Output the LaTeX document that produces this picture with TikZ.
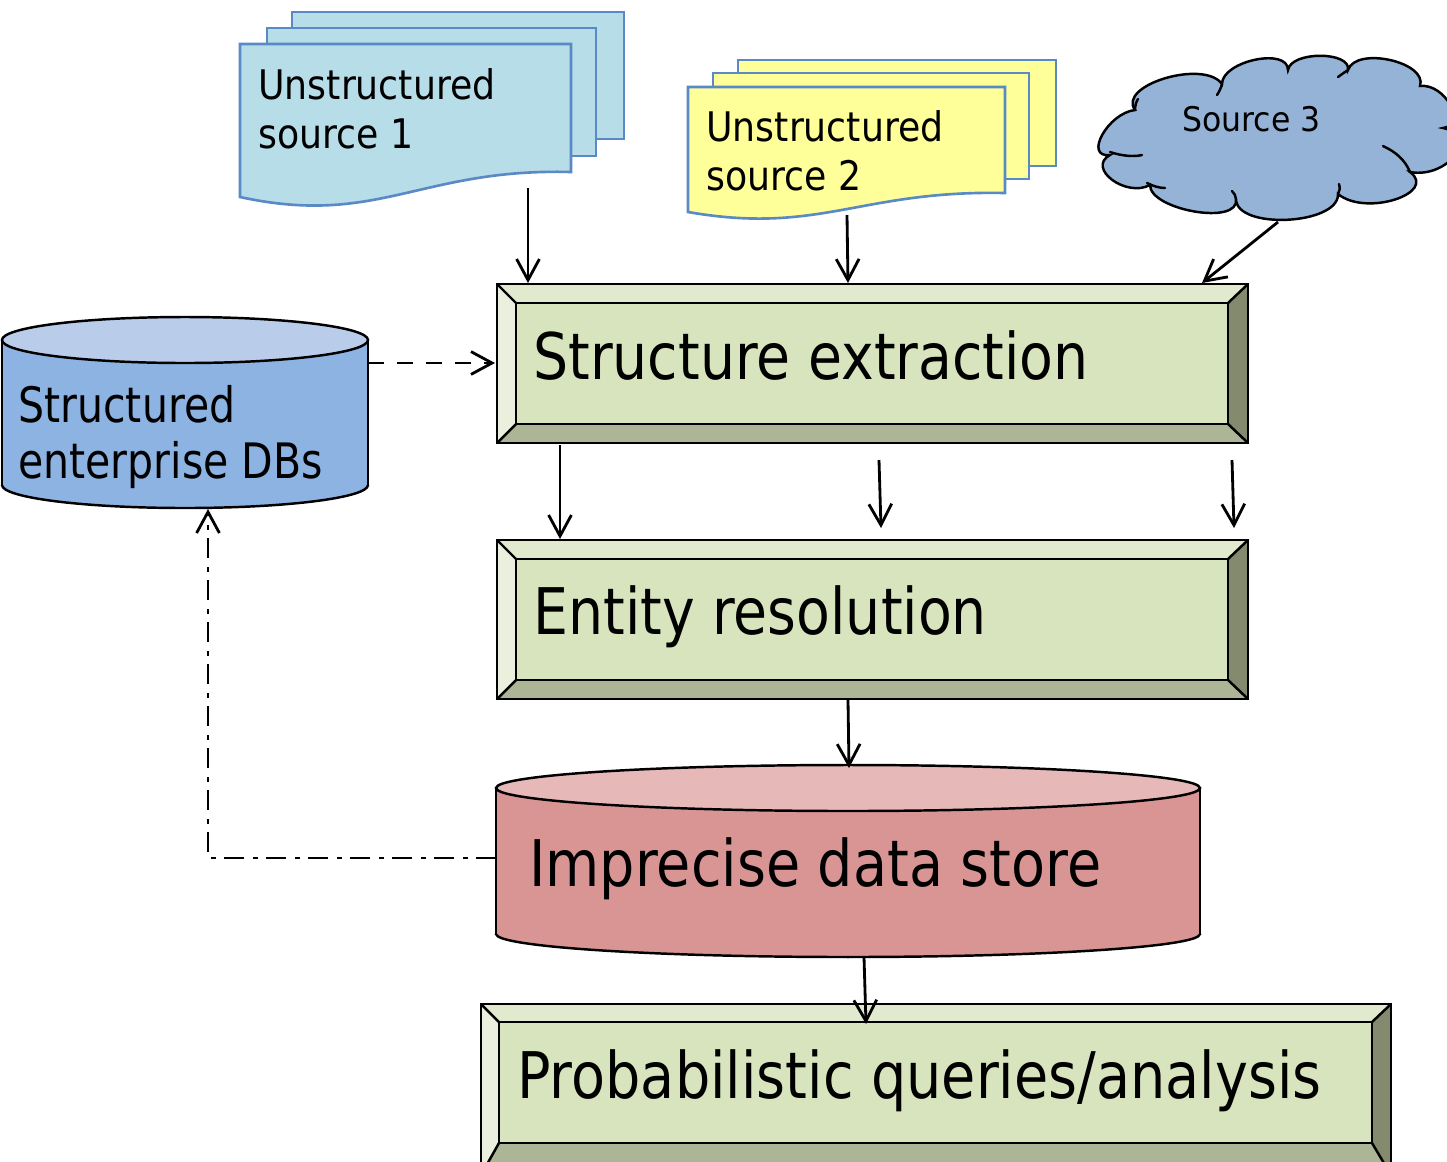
\documentclass[tikz,border=0pt]{standalone}
\usepackage{fontspec}
\usepackage{graphicx}
\setmainfont{DejaVu Sans}
\usetikzlibrary{arrows.meta}
\definecolor{bvmid}{HTML}{D7E4BD}
\definecolor{bvtop}{HTML}{E1E9CE}
\definecolor{bvleft}{HTML}{EAF0DD}
\definecolor{bvbot}{HTML}{ACB696}
\definecolor{bvright}{HTML}{838A6D}
\definecolor{docline}{HTML}{5A8AC6}
\definecolor{docblue}{HTML}{B7DDE8}
\definecolor{docyellow}{HTML}{FFFF99}
\definecolor{cloudc}{HTML}{95B3D7}
\definecolor{dbbody}{HTML}{8DB3E2}
\definecolor{dbtop}{HTML}{B9CDEB}
\definecolor{idsbody}{HTML}{D99594}
\definecolor{idstop}{HTML}{E6B9B8}
\newcommand{\bevelbox}[8]{%
  \fill[bvtop] (#1,#2) -- (#3,#2) -- (#7,#6) -- (#5,#6) -- cycle;
  \fill[bvleft] (#1,#2) -- (#5,#6) -- (#5,#8) -- (#1,#4) -- cycle;
  \fill[bvbot] (#1,#4) -- (#5,#8) -- (#7,#8) -- (#3,#4) -- cycle;
  \fill[bvright] (#3,#2) -- (#3,#4) -- (#7,#8) -- (#7,#6) -- cycle;
  \fill[bvmid] (#5,#6) rectangle (#7,#8);
  \draw[boxline] (#1,#2) rectangle (#3,#4);
  \draw[boxline] (#5,#6) rectangle (#7,#8);
  \draw[boxline] (#1,#2) -- (#5,#6) (#3,#2) -- (#7,#6) (#1,#4) -- (#5,#8) (#3,#4) -- (#7,#8);
}
% cylinder: x1 x2 cy by rx ry body top
\newcommand{\cyl}[8]{%
  \fill[#7] (#1,#3) rectangle (#2,#4);
  \fill[#7] ({(#1+#2)/2},#4) ellipse [x radius=#5, y radius=#6];
  \begin{scope}
    \clip ({#1-10},#4) rectangle ({#2+10},{#4+#6+10});
    \draw[boxline] ({(#1+#2)/2},#4) ellipse [x radius=#5, y radius=#6];
  \end{scope}
  \draw[boxline] (#1,#3) -- (#1,#4) (#2,#3) -- (#2,#4);
  \draw[boxline,fill=#8] ({(#1+#2)/2},#3) ellipse [x radius=#5, y radius=#6];
}
\newcommand{\sx}[2]{\scalebox{#1}[1]{#2}}
\tikzset{
  boxline/.style={draw=black, line width=1.4pt, line join=miter},
  docsheet/.style={draw=docline, line width=1.5pt, line join=miter},
  conn/.style={draw=black, line width=1.6pt, -{Straight Barb[length=12pt,width=13pt,line width=1.6pt]}},
  dashconn/.style={conn, dash pattern=on 0.32cm off 0.26cm},
  dashdotconn/.style={conn, dash pattern=on 0.4cm off 0.17cm on 0.1cm off 0.17cm},
  bigtxt/.style={anchor=base west, inner sep=0, font=\fontsize{36.6}{40}\selectfont},
  doctxt/.style={anchor=base west, inner sep=0, align=left, font=\fontsize{23.2}{27.8}\selectfont},
  dbtxt/.style={anchor=base west, inner sep=0, align=left, font=\fontsize{27.8}{31.7}\selectfont},
}
\begin{document}
\begin{tikzpicture}[x=0.02cm, y=-0.02cm]
\useasboundingbox (0,0) rectangle (1447,1161);
\clip (0,0) rectangle (1447,1161);
% ---- Unstructured source 1
\filldraw[docsheet, fill=docblue] (292,12) rectangle (624,139);
\filldraw[docsheet, fill=docblue] (267,28) rectangle (596,156);
\filldraw[docsheet, fill=docblue] (240,44) -- (571,44) -- (571,172)
   .. controls (420,168) and (378,227) .. (240,197) -- cycle;
\node[doctxt] (t1) at (258,148) {\sx{0.89}{Unstructured}\\\sx{0.89}{source 1}};
% ---- Unstructured source 2
\filldraw[docsheet, fill=docyellow] (738,60) rectangle (1056,166);
\filldraw[docsheet, fill=docyellow] (713,73) rectangle (1029,179);
\filldraw[docsheet, fill=docyellow] (688,87) -- (1005,87) -- (1005,193)
   .. controls (860,190) and (820,235) .. (688,212) -- cycle;
\node[doctxt] (t2) at (706,190) {\sx{0.89}{Unstructured}\\\sx{0.89}{source 2}};
% ---- Source 3 cloud
\filldraw[boxline, fill=cloudc] (1135,110)
  .. controls (1117,85) and (1204,59) .. (1222,84)
  .. controls (1222,61) and (1288,47) .. (1288,70)
  .. controls (1291,51) and (1351,51) .. (1348,70)
  .. controls (1356,46) and (1428,62) .. (1420,86)
  .. controls (1445,83) and (1468,125) .. (1443,128)
  .. controls (1481,135) and (1448,179) .. (1410,172)
  .. controls (1438,193) and (1366,217) .. (1338,194)
  .. controls (1339,225) and (1236,230) .. (1236,199)
  .. controls (1240,226) and (1150,210) .. (1150,185)
  .. controls (1126,198) and (1086,168) .. (1110,155)
  .. controls (1083,158) and (1108,113) .. (1135,110) -- cycle;
\draw[boxline, line cap=round] (1110,152) .. controls (1122,156) and (1134,157) .. (1142,155);
\draw[boxline, line cap=round] (1147,183) .. controls (1153,186) and (1159,188) .. (1165,188);
\draw[boxline, line cap=round] (1236,199) .. controls (1236,196) and (1234,193) .. (1232,191);
\draw[boxline, line cap=round] (1338,194) .. controls (1340,191) and (1340,188) .. (1339,184);
\draw[boxline, line cap=round] (1410,172) .. controls (1405,160) and (1396,152) .. (1383,146);
\draw[boxline, line cap=round] (1222,84) .. controls (1221,88) and (1219,92) .. (1217,95);
\draw[boxline, line cap=round] (1348,70) .. controls (1345,72) and (1342,74) .. (1338,77);
\draw[boxline, line cap=round] (1135,110) .. controls (1135,106) and (1136,102) .. (1138,99);
\node[anchor=base west, inner sep=0, font=\fontsize{19.3}{22}\selectfont] (t3) at (1182,131) {\sx{0.93}{Source 3}};
% ---- Structured enterprise DBs
\cyl{2}{368}{340}{485}{183}{23}{dbbody}{dbtop}
\node[dbtxt] (tdb) at (18,478) {\sx{0.84}{Structured}\\\sx{0.84}{enterprise DBs}};
% ---- Structure extraction
\bevelbox{497}{284}{1248}{443}{516}{303}{1228}{424}
\node[bigtxt] (tse) at (533,379) {\sx{0.86}{Structure extraction}};
% ---- Entity resolution
\bevelbox{497}{540}{1248}{699}{516}{559}{1228}{680}
\node[bigtxt] (ter) at (533,634) {\sx{0.86}{Entity resolution}};
% ---- Imprecise data store
\cyl{496}{1200}{788}{934}{352}{23}{idsbody}{idstop}
\node[bigtxt] (tids) at (529,886) {\sx{0.865}{Imprecise data store}};
% ---- Probabilistic queries/analysis
\bevelbox{481}{1004}{1391}{1175}{499}{1022}{1372}{1143}
\node[bigtxt] (tpq) at (517,1098) {\sx{0.865}{Probabilistic queries/analysis}};
% ---- connector end points
\coordinate (d1b) at (528,188);  \coordinate (se1) at (528,283);
\coordinate (d2b) at (847,215);  \coordinate (se2) at (848,283);
\coordinate (c3b) at (1278,222); \coordinate (se3) at (1202,283);
\coordinate (dbr) at (368,363);  \coordinate (sel) at (495,363);
\coordinate (seb1) at (560,445); \coordinate (ert1) at (560,539);
\coordinate (seb2) at (879,460); \coordinate (ert2) at (881,528);
\coordinate (seb3) at (1232,460);\coordinate (ert3) at (1234,528);
\coordinate (erb) at (848,700);  \coordinate (idst) at (849,768);
\coordinate (idsb) at (864,957); \coordinate (pqt) at (866,1024);
\coordinate (idsl) at (496,858); \coordinate (corner) at (208,858);
\coordinate (dbb) at (208,509);
% ---- connectors
\draw[conn] (d1b) -- (se1);
\draw[conn] (d2b) -- (se2);
\draw[conn] (c3b) -- (se3);
\draw[dashconn] (dbr) -- (sel);
\draw[conn] (seb1) -- (ert1);
\draw[conn] (seb2) -- (ert2);
\draw[conn] (seb3) -- (ert3);
\draw[conn] (erb) -- (idst);
\draw[conn] (idsb) -- (pqt);
\draw[dashdotconn] (idsl) -- (corner) -- (dbb);
\end{tikzpicture}
\end{document}
